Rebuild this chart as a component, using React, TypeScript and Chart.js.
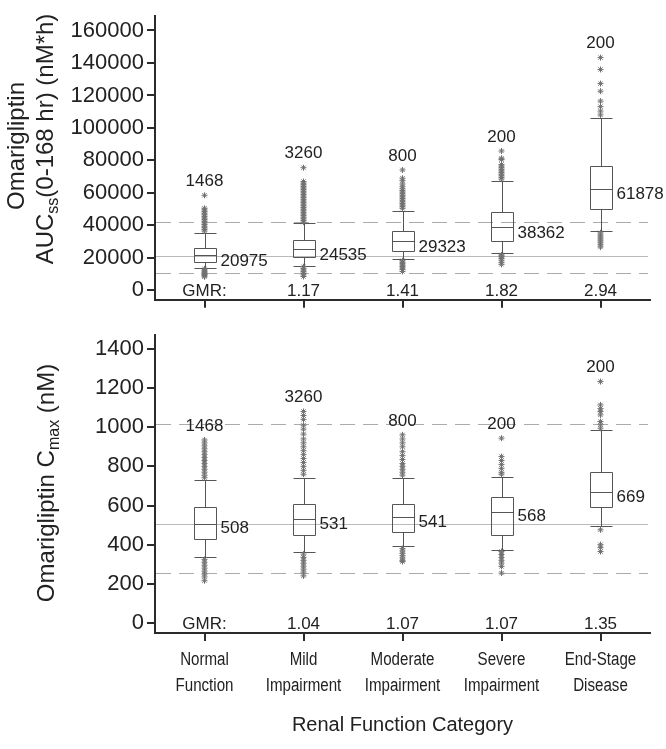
import React, { useEffect, useRef } from "react";
import { Chart, registerables } from "chart.js";

Chart.register(...registerables);

// ---------------- DATA ----------------
const categoryLines = [
  ["Normal", "Function"],
  ["Mild", "Impairment"],
  ["Moderate", "Impairment"],
  ["Severe", "Impairment"],
  ["End-Stage", "Disease"],
];
const subjectCounts = [1468, 3260, 800, 200, 200];
const xAxisTitle = "Renal Function Category";

// AUC panel
const aucTicks = [0, 20000, 40000, 60000, 80000, 100000, 120000, 140000, 160000];
const aucQ1 = [17200, 20350, 24000, 30500, 49900];
const aucMedian = [21700, 25600, 30500, 38900, 62200];
const aucQ3 = [26200, 30900, 36800, 48000, 76300];
const aucWhiskerLow = [13900, 15250, 19000, 22800, 36400];
const aucWhiskerHigh = [35400, 41200, 49100, 67300, 106200];
const aucGeoMean = [20975, 24535, 29323, 38362, 61878];
const aucGMR = ["GMR:", "1.17", "1.41", "1.82", "2.94"];
const aucRefSolid = [20975];
const aucRefDashed = [10488, 41950];
const aucUpperOutliers = [
  [58500, 50500, 49500, 48500, 47500, 46500, 45500, 44500, 43500, 42500, 41500, 40500, 39500, 38500, 37500, 36500],
  [75500, 67000, 66000, 65000, 64000, 63000, 62000, 61000, 60000, 59000, 58000, 57000, 56000, 55000, 54000, 53000, 52000, 51000, 50000, 49000, 48000, 47000, 46000, 45000, 44000, 43000, 42000],
  [74100, 69000, 67500, 65500, 63800, 62500, 61500, 60500, 59500, 58500, 57500, 56500, 55500, 54500, 53500, 52500, 51500, 50500],
  [85800, 81300, 80500, 77500, 76500, 75500, 74500, 73500, 72500, 71500, 70500, 69500, 68500],
  [143300, 136000, 127300, 122600, 116500, 113100, 110400, 108000],
];
const aucLowerOutliers = [
  [13200, 12500, 11800, 11100, 10400, 9700, 9000, 8300],
  [14500, 13500, 12500, 11500, 10500, 9500, 8500],
  [18200, 17300, 16400, 15500, 14600, 13700, 12800, 11600],
  [21800, 21200, 20500, 19500, 18500, 17200, 16000],
  [35400, 34000, 32800, 31600, 30400, 29200, 28000, 26600],
];

// Cmax panel
const cmaxTicks = [0, 200, 400, 600, 800, 1000, 1200, 1400];
const cmaxQ1 = [429, 450, 467, 450, 592];
const cmaxMedian = [507, 532, 541, 566, 668];
const cmaxQ3 = [595, 607, 609, 646, 773];
const cmaxWhiskerLow = [335, 364, 391, 374, 493];
const cmaxWhiskerHigh = [731, 743, 740, 748, 986];
const cmaxGeoMean = [508, 531, 541, 568, 669];
const cmaxGMR = ["GMR:", "1.04", "1.07", "1.07", "1.35"];
const cmaxRefSolid = [508];
const cmaxRefDashed = [254, 1016];
const cmaxUpperOutliers = [
  [935, 920, 905, 890, 875, 860, 845, 830, 815, 800, 785, 770, 755, 742],
  [1080, 1060, 1040, 1010, 990, 965, 940, 920, 900, 880, 860, 840, 820, 800, 780, 760],
  [961, 940, 920, 900, 875, 855, 835, 815, 800, 785, 770, 755],
  [944, 850, 830, 810, 790, 770, 760],
  [1233, 1114, 1095, 1080, 1063, 1029, 1012, 995],
];
const cmaxLowerOutliers = [
  [325, 310, 295, 280, 265, 250, 235, 216],
  [352, 335, 320, 305, 290, 275, 260, 241],
  [380, 368, 356, 344, 332, 320, 314],
  [365, 350, 335, 320, 306, 289, 255],
  [476, 400, 385, 365],
];

// ---------------- STYLE ----------------
const SANS = '"Liberation Sans", Arial, Helvetica, sans-serif';
const TEXT = "#222222";
const AXIS = "#2b2b2b";

type TitlePart = { t: string; sub?: boolean };

type Panel = {
  q1: number[];
  med: number[];
  q3: number[];
  lo: number[];
  hi: number[];
  gm: number[];
  gmr: string[];
  refSolid: number[];
  refDashed: number[];
  upper: number[][];
  lower: number[][];
  ticks: number[];
  yMin: number;
  yMax: number;
  padTop: number;
  xHeight: number;
  showCats: boolean;
  titleLines: { parts: TitlePart[]; baseX: number; centerY: number }[];
};

const topPanel: Panel = {
  q1: aucQ1,
  med: aucMedian,
  q3: aucQ3,
  lo: aucWhiskerLow,
  hi: aucWhiskerHigh,
  gm: aucGeoMean,
  gmr: aucGMR,
  refSolid: aucRefSolid,
  refDashed: aucRefDashed,
  upper: aucUpperOutliers,
  lower: aucLowerOutliers,
  ticks: aucTicks,
  yMin: -5860,
  yMax: 168800,
  padTop: 4,
  xHeight: 14,
  showCats: false,
  titleLines: [
    { parts: [{ t: "Omarigliptin" }], baseX: 24, centerY: 146 },
    {
      parts: [{ t: "AUC" }, { t: "ss", sub: true }, { t: "(0-168 hr) (nM*h)" }],
      baseX: 53,
      centerY: 139,
    },
  ],
};

const bottomPanel: Panel = {
  q1: cmaxQ1,
  med: cmaxMedian,
  q3: cmaxQ3,
  lo: cmaxWhiskerLow,
  hi: cmaxWhiskerHigh,
  gm: cmaxGeoMean,
  gmr: cmaxGMR,
  refSolid: cmaxRefSolid,
  refDashed: cmaxRefDashed,
  upper: cmaxUpperOutliers,
  lower: cmaxLowerOutliers,
  ticks: cmaxTicks,
  yMin: -51,
  yMax: 1471,
  padTop: 19,
  xHeight: 116,
  showCats: true,
  titleLines: [
    {
      parts: [{ t: "Omarigliptin C" }, { t: "max", sub: true }, { t: " (nM)" }],
      baseX: 54,
      centerY: 167,
    },
  ],
};

function drawRotatedTitle(ctx: CanvasRenderingContext2D, parts: TitlePart[], baseX: number, centerY: number) {
  const big = "24px " + SANS;
  const small = "16px " + SANS;
  let total = 0;
  const widths = parts.map((p) => {
    ctx.font = p.sub ? small : big;
    const w = ctx.measureText(p.t).width;
    total += w;
    return w;
  });
  ctx.save();
  ctx.translate(baseX, centerY);
  ctx.rotate(-Math.PI / 2);
  ctx.fillStyle = TEXT;
  ctx.textBaseline = "alphabetic";
  ctx.textAlign = "left";
  let x = -total / 2;
  parts.forEach((p, i) => {
    ctx.font = p.sub ? small : big;
    ctx.fillText(p.t, x, p.sub ? 5 : 0);
    x += widths[i];
  });
  ctx.restore();
}

function panelPlugin(p: Panel) {
  return {
    id: "boxPanel",
    beforeDatasetsDraw(chart: any) {
      const { ctx, chartArea } = chart;
      const x = chart.scales.x;
      const y = chart.scales.y;
      ctx.save();
      ctx.lineWidth = 1;
      // reference lines
      const refLine = (v: number, dashed: boolean) => {
        const py = Math.round(y.getPixelForValue(v)) + 0.5;
        ctx.setLineDash(dashed ? [15, 8] : []);
        ctx.strokeStyle = dashed ? "#ababab" : "#b9b9b9";
        ctx.beginPath();
        ctx.moveTo(chartArea.left + 1, py);
        ctx.lineTo(chartArea.right - 2, py);
        ctx.stroke();
      };
      p.refDashed.forEach((v) => refLine(v, true));
      p.refSolid.forEach((v) => refLine(v, false));
      ctx.setLineDash([]);
      // boxes
      ctx.strokeStyle = "#555555";
      const half = 11;
      for (let i = 0; i < p.q1.length; i++) {
        const cx = Math.round(x.getPixelForValue(i)) + 0.5;
        const pq1 = Math.round(y.getPixelForValue(p.q1[i])) + 0.5;
        const pq3 = Math.round(y.getPixelForValue(p.q3[i])) + 0.5;
        const pmed = Math.round(y.getPixelForValue(p.med[i])) + 0.5;
        const plo = Math.round(y.getPixelForValue(p.lo[i])) + 0.5;
        const phi = Math.round(y.getPixelForValue(p.hi[i])) + 0.5;
        ctx.beginPath();
        ctx.rect(cx - half, pq3, half * 2, pq1 - pq3);
        ctx.moveTo(cx - half, pmed);
        ctx.lineTo(cx + half, pmed);
        ctx.moveTo(cx, pq3);
        ctx.lineTo(cx, phi);
        ctx.moveTo(cx - half, phi);
        ctx.lineTo(cx + half, phi);
        ctx.moveTo(cx, pq1);
        ctx.lineTo(cx, plo);
        ctx.moveTo(cx - half, plo);
        ctx.lineTo(cx + half, plo);
        ctx.stroke();
      }
      ctx.restore();
    },
    afterDraw(chart: any) {
      const { ctx, chartArea } = chart;
      const x = chart.scales.x;
      const y = chart.scales.y;
      ctx.save();
      ctx.fillStyle = TEXT;
      ctx.font = "17px " + SANS;
      for (let i = 0; i < p.q1.length; i++) {
        const cx = x.getPixelForValue(i);
        // n labels
        const top = Math.max(...p.upper[i]);
        ctx.textAlign = "center";
        ctx.textBaseline = "middle";
        ctx.fillText(String(subjectCounts[i]), cx, y.getPixelForValue(top) - 14);
        // geometric mean labels
        ctx.textAlign = "left";
        ctx.fillText(String(p.gm[i]), cx + 16, y.getPixelForValue(p.gm[i]) + 5);
        // GMR row
        ctx.textAlign = "center";
        ctx.fillText(p.gmr[i], cx, y.getPixelForValue(0) + 1);
      }
      // category labels (condensed, as in the reference)
      if (p.showCats) {
        ctx.font = "18px " + SANS;
        ctx.textAlign = "center";
        ctx.textBaseline = "middle";
        for (let i = 0; i < categoryLines.length; i++) {
          const cx = x.getPixelForValue(i);
          categoryLines[i].forEach((line, k) => {
            ctx.save();
            ctx.translate(cx, chartArea.bottom + 27 + k * 26);
            ctx.scale(0.84, 1);
            ctx.fillText(line, 0, 0);
            ctx.restore();
          });
        }
      }
      ctx.restore();
      p.titleLines.forEach((l) => drawRotatedTitle(ctx, l.parts, l.baseX, l.centerY));
    },
  };
}

function makeConfig(p: Panel): any {
  const pointStyle = {
    pointStyle: "star",
    pointRadius: 3,
    borderColor: "#707070",
    backgroundColor: "#707070",
    borderWidth: 1,
    showLine: false,
  };
  const datasets: any[] = [];
  p.upper.forEach((vals, i) => datasets.push({ data: vals.map((v) => ({ x: i, y: v })), ...pointStyle }));
  p.lower.forEach((vals, i) => datasets.push({ data: vals.map((v) => ({ x: i, y: v })), ...pointStyle }));

  return {
    type: "scatter",
    data: { datasets },
    options: {
      responsive: false,
      animation: false,
      devicePixelRatio: 1,
      events: [],
      layout: { padding: { left: 0, right: 16, top: p.padTop, bottom: 0 } },
      plugins: { legend: { display: false }, tooltip: { enabled: false } },
      scales: {
        x: {
          type: "linear",
          min: -0.5,
          max: 4.5,
          afterBuildTicks: (s: any) => {
            s.ticks = categoryLines.map((_, i) => ({ value: i }));
          },
          afterFit: (s: any) => {
            s.height = p.xHeight;
          },
          grid: { drawOnChartArea: false, drawTicks: true, tickLength: 8, color: AXIS, lineWidth: 2 },
          border: { display: true, color: AXIS, width: 2 },
          ticks: { display: false },
          title: p.showCats
            ? {
                display: true,
                text: xAxisTitle,
                color: TEXT,
                font: { family: SANS, size: 20, lineHeight: 1.2 },
                padding: { top: 0, bottom: 12 },
              }
            : { display: false },
        },
        y: {
          type: "linear",
          min: p.yMin,
          max: p.yMax,
          afterBuildTicks: (s: any) => {
            s.ticks = p.ticks.map((v) => ({ value: v }));
          },
          afterFit: (s: any) => {
            s.width = 155;
          },
          grid: { drawOnChartArea: false, drawTicks: true, tickLength: 8, color: AXIS, lineWidth: 2 },
          border: { display: true, color: AXIS, width: 2 },
          ticks: {
            color: TEXT,
            padding: 3,
            font: { family: SANS, size: 22 },
            callback: (v: any) => String(v),
          },
        },
      },
    },
    plugins: [panelPlugin(p)],
  };
}

export default function App() {
  const topRef = useRef<HTMLCanvasElement>(null);
  const botRef = useRef<HTMLCanvasElement>(null);
  useEffect(() => {
    const c1 = new Chart(topRef.current as HTMLCanvasElement, makeConfig(topPanel));
    const c2 = new Chart(botRef.current as HTMLCanvasElement, makeConfig(bottomPanel));
    return () => {
      c1.destroy();
      c2.destroy();
    };
  }, []);
  return (
    <div style={{ position: "fixed", left: 0, top: 0, width: 666, height: 749, background: "#ffffff" }}>
      <canvas ref={topRef} width={666} height={316} style={{ position: "absolute", left: 0, top: 0, display: "block" }} />
      <canvas ref={botRef} width={666} height={433} style={{ position: "absolute", left: 0, top: 316, display: "block" }} />
    </div>
  );
}
